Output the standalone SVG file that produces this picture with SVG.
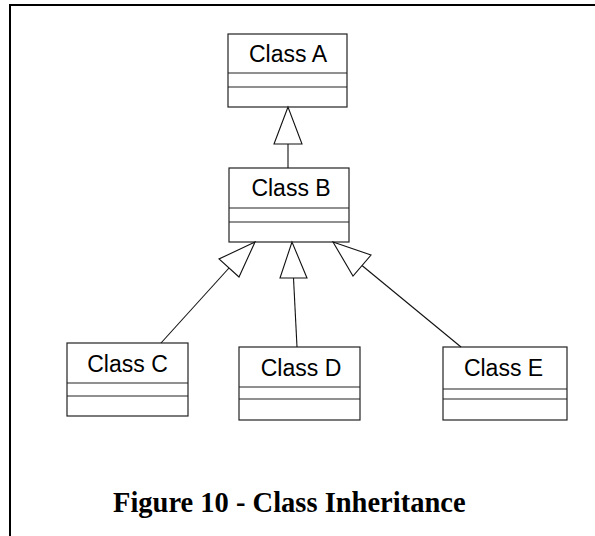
<svg xmlns="http://www.w3.org/2000/svg" width="595" height="536" viewBox="0 0 595 536">
<style>
.box{fill:#fff;stroke:#222;stroke-width:1.2}
.div{stroke:#222;stroke-width:1.2}
.lbl{font-family:"Liberation Sans",Arial,sans-serif;font-size:23px;fill:#000;text-anchor:middle}
.ln{stroke:#111;stroke-width:1.1;fill:none}
.head{fill:#fff;stroke:#111;stroke-width:1.1;stroke-linejoin:miter}
.cap{font-family:"Liberation Serif","Times New Roman",serif;font-weight:bold;font-size:28.5px;fill:#000}
</style>
<rect width="595" height="536" fill="#fff"/>
<g id="frame">
<path d="M10 536 V5 H595" fill="none" stroke="#000" stroke-width="2"/>
</g>
<g id="classA">
<rect class="box" x="228" y="34" width="119" height="73"/>
<line class="div" x1="228" y1="73" x2="347" y2="73"/>
<line class="div" x1="228" y1="87" x2="347" y2="87"/>
<text class="lbl" x="288" y="62">Class A</text>
</g>
<g id="classB">
<rect class="box" x="229" y="168" width="120" height="74"/>
<line class="div" x1="229" y1="208" x2="349" y2="208"/>
<line class="div" x1="229" y1="222" x2="349" y2="222"/>
<text class="lbl" x="291" y="196">Class B</text>
</g>
<g id="classC">
<rect class="box" x="67" y="343" width="121" height="73"/>
<line class="div" x1="67" y1="383" x2="188" y2="383"/>
<line class="div" x1="67" y1="396" x2="188" y2="396"/>
<text class="lbl" x="127.5" y="372">Class C</text>
</g>
<g id="classD">
<rect class="box" x="239" y="347" width="121" height="73"/>
<line class="div" x1="239" y1="387" x2="360" y2="387"/>
<line class="div" x1="239" y1="399" x2="360" y2="399"/>
<text class="lbl" x="301" y="376">Class D</text>
</g>
<g id="classE">
<rect class="box" x="443" y="347" width="124" height="73"/>
<line class="div" x1="443" y1="389" x2="567" y2="389"/>
<line class="div" x1="443" y1="399" x2="567" y2="399"/>
<text class="lbl" x="503.5" y="376">Class E</text>
</g>
<g id="connectors">
<line class="ln" x1="288" y1="144" x2="288" y2="168"/>
<polygon class="head" points="288,107 274,144 302,144"/>
<line class="ln" x1="229" y1="268" x2="161" y2="343"/>
<polygon class="head" points="255,242 219,259 239,277"/>
<line class="ln" x1="293.5" y1="278" x2="297" y2="347"/>
<polygon class="head" points="292,242 280,278 307,278"/>
<line class="ln" x1="362" y1="265.5" x2="461" y2="347"/>
<polygon class="head" points="333,242 371,255 353,276"/>
</g>
<g id="caption">
<text class="cap" x="113" y="512">Figure 10 - Class Inheritance</text>
</g>
</svg>
